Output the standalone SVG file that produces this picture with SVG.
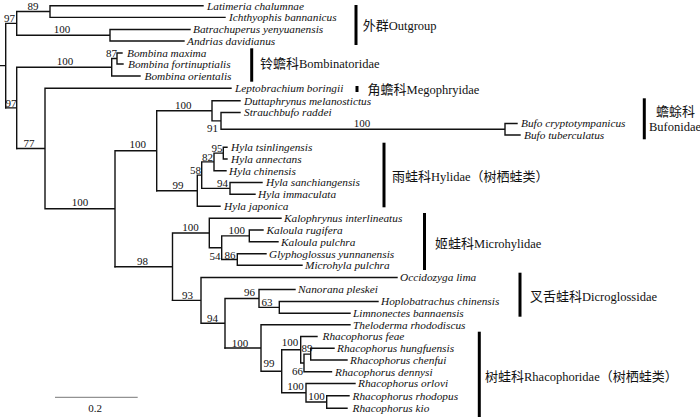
<svg xmlns="http://www.w3.org/2000/svg" width="700" height="417" viewBox="0 0 700 417">
<style>
.br{fill:none;stroke:#111;stroke-width:1.4;stroke-linecap:square}
.tip{font-family:"Liberation Serif","Times New Roman",serif;font-style:italic;font-size:11.3px;fill:#111}
.bs{font-family:"Liberation Serif","Times New Roman",serif;font-size:11px;fill:#111;text-anchor:middle}
.bse{font-family:"Liberation Serif","Times New Roman",serif;font-size:11px;fill:#111;text-anchor:end}
.bar{stroke:#000;stroke-width:3}
.fam{font-family:"Liberation Serif","Noto Sans CJK SC",serif;font-size:12.5px;fill:#111}
.cjk{font-family:"Noto Sans CJK SC",sans-serif;font-size:13px}
</style>
<rect width="700" height="417" fill="#fff"/>
<g id="connectors">
<path class="br" d="M0,65.65H5.7M5.7,23.4V107.9M5.7,23.4H16.7M16.7,11.55V35.25M16.7,11.55H50M50,5.7V17.4M50,5.7H203M50,17.4H225M16.7,35.25H110M110,29.5V41M110,29.5H190M110,41H184"/>
<path class="br" d="M5.7,107.9H16.7M16.7,67.25V148.5M16.7,67.25H111.7M111.7,58.5V76M111.7,58.5H117M117,53V64M117,53H122M117,64H123M111.7,76H140"/>
<path class="br" d="M16.7,148.5H45M45,88.3V208.7M45,88.3H231M45,208.7H115M115,150.75V266.7M115,150.75H156.7M156.7,110.8V190.7M156.7,110.8H212M212,100.7V120.9M212,100.7H240M212,120.9H221M221,112.5V129.25M221,112.5H240M221,129.25H505M505,123.5V135M505,123.5H517M505,135H520"/>
<path class="br" d="M156.7,190.7H197.3M197.3,175.1V206.3M197.3,206.3H220M197.3,175.1H201.7M201.7,161.9V188.35M201.7,161.9H214M214,153.15V170.7M214,153.15H223.3M223.3,147.3V159M223.3,147.3H227M223.3,159H227M214,170.7H226M201.7,188.35H230M230,182.5V194.2M230,182.5H262M230,194.2H255"/>
<path class="br" d="M115,266.7H172.5M172.5,233V300.35M172.5,233H209.3M209.3,218.3V247.7M209.3,218.3H281M209.3,247.7H221.7M221.7,235.85V259.5M221.7,235.85H249.3M249.3,230V241.7M249.3,230H263M249.3,241.7H278M221.7,259.5H237.3M237.3,253.7V265.3M237.3,253.7H266M237.3,265.3H302"/>
<path class="br" d="M172.5,300.35H201M201,277.5V323.2M201,277.5H397M201,323.2H225M225,298.45V348M225,298.45H259M259,289.5V307.4M259,289.5H295M259,307.4H279.3M279.3,301.5V313.3M279.3,301.5H378M279.3,313.3H350"/>
<path class="br" d="M225,348H261M261,324.8V371.25M261,324.8H350M261,371.25H281.7M281.7,349.75V392.75M281.7,349.75H300.7M300.7,336.5V363M300.7,336.5H317M300.7,363H304M304,354.15V371.8M304,371.8H331.5M304,354.15H310.7M310.7,348.3V360M310.7,348.3H334M310.7,360H347M281.7,392.75H306M306,383.5V402M306,383.5H355M306,402H326.7M326.7,395.8V408.3M326.7,395.8H349M326.7,408.3H347"/>
</g>
<g id="support">
<text class="bs" x="9.5" y="21.5">97</text>
<text class="bs" x="33" y="10">89</text>
<text class="bs" x="62" y="32.5">100</text>
<text class="bs" x="11" y="106.5">97</text>
<text class="bs" x="65" y="65">100</text>
<text class="bse" x="117" y="56.5">87</text>
<text class="bs" x="29" y="146.5">77</text>
<text class="bs" x="80" y="206">100</text>
<text class="bs" x="137.7" y="148">100</text>
<text class="bs" x="183.3" y="108.5">100</text>
<text class="bs" x="212.5" y="131.5">91</text>
<text class="bs" x="362" y="127">100</text>
<text class="bs" x="178" y="189">99</text>
<text class="bse" x="201" y="174">58</text>
<text class="bs" x="207.5" y="160.5">82</text>
<text class="bse" x="222.5" y="152">95</text>
<text class="bs" x="222.5" y="186.7">94</text>
<text class="bs" x="190.5" y="231">100</text>
<text class="bse" x="220.5" y="260">54</text>
<text class="bs" x="236.7" y="233.5">100</text>
<text class="bs" x="230" y="258.5">86</text>
<text class="bs" x="142.5" y="265">98</text>
<text class="bs" x="187.5" y="298.5">93</text>
<text class="bs" x="212.5" y="321.7">94</text>
<text class="bs" x="249.5" y="295.5">96</text>
<text class="bs" x="267" y="305.5">63</text>
<text class="bs" x="240" y="347">100</text>
<text class="bs" x="269" y="367">99</text>
<text class="bs" x="290" y="346">100</text>
<text class="bs" x="307" y="352">89</text>
<text class="bse" x="303" y="375">66</text>
<text class="bs" x="295.5" y="390">100</text>
<text class="bs" x="316.5" y="400">100</text>
</g>
<g id="taxa">
<g id="t-latimeria"><text class="tip" x="207" y="9.5">Latimeria chalumnae</text></g>
<g id="t-ichthyophis"><text class="tip" x="229" y="21.2">Ichthyophis bannanicus</text></g>
<g id="t-batrachuperus"><text class="tip" x="193" y="33.3">Batrachuperus yenyuanensis</text></g>
<g id="t-andrias"><text class="tip" x="187" y="44.8">Andrias davidianus</text></g>
<g id="t-bmaxima"><text class="tip" x="127" y="56.8">Bombina maxima</text></g>
<g id="t-bfortinuptialis"><text class="tip" x="128" y="67.8">Bombina fortinuptialis</text></g>
<g id="t-borientalis"><text class="tip" x="144.5" y="79.8">Bombina orientalis</text></g>
<g id="t-leptobrachium"><text class="tip" x="235" y="92.1">Leptobrachium boringii</text></g>
<g id="t-duttaphrynus"><text class="tip" x="244" y="104.5">Duttaphrynus melanostictus</text></g>
<g id="t-strauchbufo"><text class="tip" x="244" y="116.3">Strauchbufo raddei</text></g>
<g id="t-bcrypto"><text class="tip" x="521" y="127.3">Bufo cryptotympanicus</text></g>
<g id="t-btuber"><text class="tip" x="524" y="138.8">Bufo tuberculatus</text></g>
<g id="t-htsin"><text class="tip" x="231" y="151.1">Hyla tsinlingensis</text></g>
<g id="t-hannect"><text class="tip" x="231" y="162.8">Hyla annectans</text></g>
<g id="t-hchin"><text class="tip" x="229" y="174.5">Hyla chinensis</text></g>
<g id="t-hsanch"><text class="tip" x="266" y="186.3">Hyla sanchiangensis</text></g>
<g id="t-himmac"><text class="tip" x="258" y="198">Hyla immaculata</text></g>
<g id="t-hjapon"><text class="tip" x="224" y="210.1">Hyla japonica</text></g>
<g id="t-kalophrynus"><text class="tip" x="284" y="222.1">Kalophrynus interlineatus</text></g>
<g id="t-krugifera"><text class="tip" x="266.5" y="233.8">Kaloula rugifera</text></g>
<g id="t-kpulchra"><text class="tip" x="281" y="245.5">Kaloula pulchra</text></g>
<g id="t-glypho"><text class="tip" x="269" y="257.5">Glyphoglossus yunnanensis</text></g>
<g id="t-microhyla"><text class="tip" x="305" y="269.1">Microhyla pulchra</text></g>
<g id="t-occidozyga"><text class="tip" x="400" y="281.3">Occidozyga lima</text></g>
<g id="t-nanorana"><text class="tip" x="298" y="293.3">Nanorana pleskei</text></g>
<g id="t-hoplo"><text class="tip" x="381" y="305.3">Hoplobatrachus chinensis</text></g>
<g id="t-limnonectes"><text class="tip" x="353" y="317.1">Limnonectes bannaensis</text></g>
<g id="t-theloderma"><text class="tip" x="353" y="328.6">Theloderma rhododiscus</text></g>
<g id="t-rfeae"><text class="tip" x="322.5" y="340.3">Rhacophorus feae</text></g>
<g id="t-rhung"><text class="tip" x="337" y="352.1">Rhacophorus hungfuensis</text></g>
<g id="t-rchenfui"><text class="tip" x="350" y="363.8">Rhacophorus chenfui</text></g>
<g id="t-rdennysi"><text class="tip" x="335" y="375.6">Rhacophorus dennysi</text></g>
<g id="t-rorlovi"><text class="tip" x="358" y="387.3">Rhacophorus orlovi</text></g>
<g id="t-rrhodopus"><text class="tip" x="352.5" y="399.6">Rhacophorus rhodopus</text></g>
<g id="t-rkio"><text class="tip" x="352.5" y="412.1">Rhacophorus kio</text></g>
</g>
<g id="f-outgroup"><line class="bar" x1="356" y1="5" x2="356" y2="45"/><text class="fam" x="362.7" y="29.5"><tspan class="cjk">外群</tspan>Outgroup</text></g>
<g id="f-bombinatoridae"><line class="bar" x1="251.7" y1="48.3" x2="251.7" y2="81.7"/><text class="fam" x="260" y="68"><tspan class="cjk">铃蟾科</tspan>Bombinatoridae</text></g>
<g id="f-megophryidae"><line class="bar" x1="357" y1="86" x2="357" y2="92"/><text class="fam" x="367.5" y="93.5"><tspan class="cjk">角蟾科</tspan>Megophryidae</text></g>
<g id="f-bufonidae"><line class="bar" x1="644.3" y1="98.3" x2="644.3" y2="139.3"/><text class="fam" x="675.5" y="115.5" text-anchor="middle"><tspan class="cjk">蟾蜍科</tspan></text><text class="fam" x="675" y="130.5" text-anchor="middle">Bufonidae</text></g>
<g id="f-hylidae"><line class="bar" x1="384" y1="142.7" x2="384" y2="207.3"/><text class="fam" x="392" y="180.5"><tspan class="cjk">雨蛙科</tspan>Hylidae<tspan class="cjk">（树栖蛙类）</tspan></text></g>
<g id="f-microhylidae"><line class="bar" x1="424.5" y1="213" x2="424.5" y2="270"/><text class="fam" x="435" y="248"><tspan class="cjk">姬蛙科</tspan>Microhylidae</text></g>
<g id="f-dicroglossidae"><line class="bar" x1="520" y1="272.7" x2="520" y2="316.7"/><text class="fam" x="530" y="301"><tspan class="cjk">叉舌蛙科</tspan>Dicroglossidae</text></g>
<g id="f-rhacophoridae"><line class="bar" x1="479.3" y1="331.7" x2="479.3" y2="417"/><text class="fam" x="485" y="380.5"><tspan class="cjk">树蛙科</tspan>Rhacophoridae<tspan class="cjk">（树栖蛙类）</tspan></text></g>
<g id="scale"><line x1="55" y1="397.3" x2="137.7" y2="397.3" stroke="#777" stroke-width="1"/><text class="bs" x="95" y="412">0.2</text></g>
</svg>
